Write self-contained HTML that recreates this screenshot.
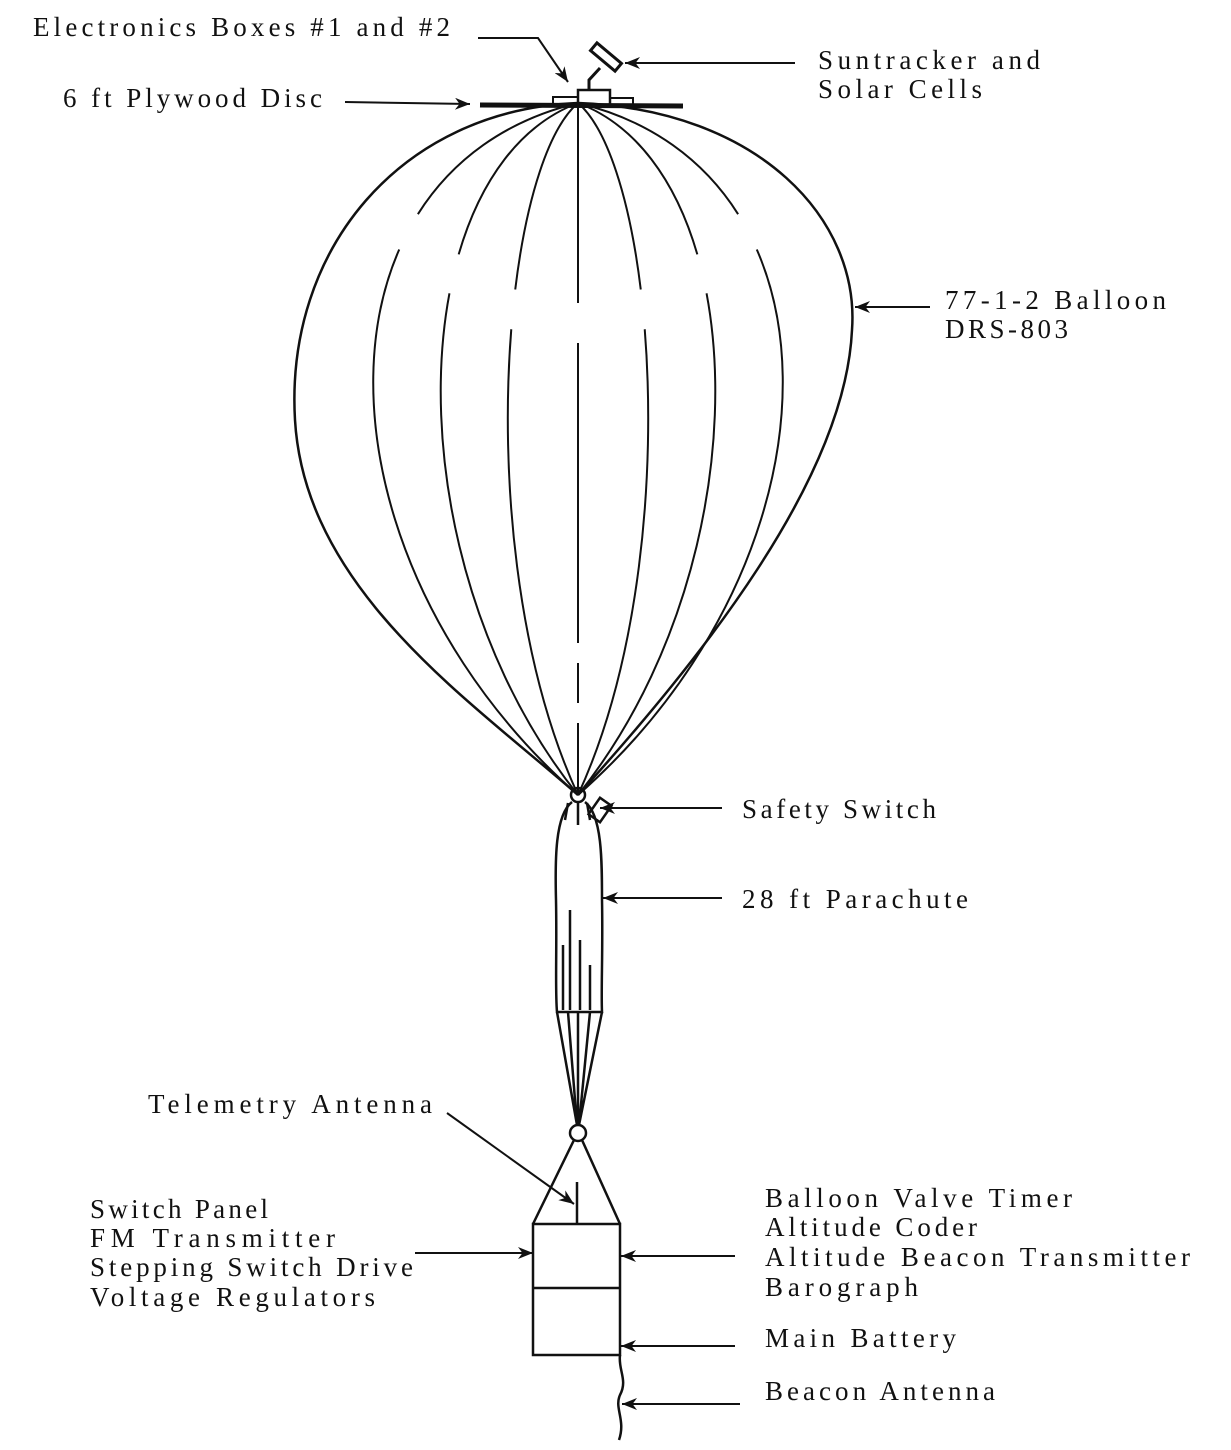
<!DOCTYPE html>
<html><head><style>
body{margin:0;background:#fff;}
svg{display:block}
text{font-family:"Liberation Serif",serif;font-size:27px;fill:#111}
</style></head><body>
<svg width="1231" height="1450" viewBox="0 0 1231 1450">
<defs>
<marker id="b" viewBox="0 0 10 8" markerWidth="22" markerHeight="12" refX="10" refY="4" orient="auto" markerUnits="userSpaceOnUse"><path d="M0,0 L10,4 L0,8 L3,4Z" fill="#111"/></marker></defs>
<g stroke="#111" fill="none" stroke-width="2.5">
<path d="M578,103 C400,110 285,250 295,420 C305,590 470,700 578,795"/>
<path d="M578,103 C760,110 860,220 852,330 C845,480 700,660 578,795"/>
<g stroke-width="2" stroke-dasharray="200 40 1000">
<path d="M578,103 C300,170 310,560 578,795"/>
<path d="M578,103 C400,170 390,560 578,795"/>
<path d="M578,103 C500,170 470,560 578,795"/>
<path d="M578,103 L578,795" stroke-dasharray="200 40 300 20 40 20 1000"/>
<path d="M578,103 C656,170 686,560 578,795"/>
<path d="M578,103 C756,170 766,560 578,795"/>
<path d="M578,103 C856,170 846,560 578,795"/>
</g>
<path d="M480,105 L683,106" stroke-width="5"/>
<rect x="553" y="97" width="25" height="9" stroke-width="2"/>
<rect x="578" y="90" width="32" height="16" stroke-width="2.5"/>
<rect x="610" y="98" width="23" height="8" stroke-width="2"/>
<path d="M589,90 L589,80 L600,68" stroke-width="3"/>
<rect x="590" y="52" width="32" height="10" transform="rotate(40 606 57)" stroke-width="3"/>
<circle cx="578" cy="795" r="7" stroke-width="2.5"/>
<rect x="593" y="800" width="14" height="20" transform="rotate(35 600 810)" stroke-width="2.5"/>
<path d="M572,802 C555,815 555,860 556,900 C557,950 555,990 557,1012 L602,1012 C601,990 603,950 602,900 C602,860 602,815 585,802"/>
<path d="M568,803 L565,820 M578,803 L578,825 M587,803 L590,820"/>
<path d="M570,910 L570,1010 M580,940 L580,1010 M590,965 L590,1010 M563,945 L563,1010"/>
<path d="M557,1012 L577,1125 M568,1012 L577,1125 M578,1012 L578,1125 M590,1012 L579,1125 M602,1012 L579,1125"/>
<circle cx="578" cy="1133" r="8" stroke-width="2.5"/>
<path d="M574,1140 L533,1224 M582,1140 L620,1224"/>
<rect x="533" y="1224" width="87" height="131"/>
<path d="M533,1288 L620,1288"/>
<path d="M577,1182 L577,1224"/>
<path d="M620,1355 C618,1370 628,1380 620,1395 C614,1408 626,1420 619,1440"/>
<g stroke-width="2">
<path d="M478,38 L538,38 L568,82" marker-end="url(#b)"/>
<path d="M345,102 L470,104" marker-end="url(#b)"/>
<path d="M795,63 L625,63" marker-end="url(#b)"/>
<path d="M930,307 L855,307" marker-end="url(#b)"/>
<path d="M722,808 L600,808" marker-end="url(#b)"/>
<path d="M722,898 L603,898" marker-end="url(#b)"/>
<path d="M447,1113 L574,1204" marker-end="url(#b)"/>
<path d="M415,1253 L533,1253" marker-end="url(#b)"/>
<path d="M735,1256 L621,1256" marker-end="url(#b)"/>
<path d="M735,1346 L621,1346" marker-end="url(#b)"/>
<path d="M740,1404 L622,1404" marker-end="url(#b)"/>
</g>
</g>
<text x="33" y="36" textLength="417" lengthAdjust="spacing">Electronics Boxes #1 and #2</text>
<text x="63" y="107" textLength="259" lengthAdjust="spacing">6 ft Plywood Disc</text>
<text x="818" y="69" textLength="222" lengthAdjust="spacing">Suntracker and</text>
<text x="818" y="98" textLength="164" lengthAdjust="spacing">Solar Cells</text>
<text x="945" y="309" textLength="221" lengthAdjust="spacing">77-1-2 Balloon</text>
<text x="945" y="338" textLength="123" lengthAdjust="spacing">DRS-803</text>
<text x="742" y="818" textLength="194" lengthAdjust="spacing">Safety Switch</text>
<text x="742" y="908" textLength="226" lengthAdjust="spacing">28 ft Parachute</text>
<text x="148" y="1113" textLength="284" lengthAdjust="spacing">Telemetry Antenna</text>
<text x="90" y="1218" textLength="178" lengthAdjust="spacing">Switch Panel</text>
<text x="90" y="1247" textLength="245" lengthAdjust="spacing">FM Transmitter</text>
<text x="90" y="1276" textLength="323" lengthAdjust="spacing">Stepping Switch Drive</text>
<text x="90" y="1306" textLength="285" lengthAdjust="spacing">Voltage Regulators</text>
<text x="765" y="1207" textLength="307" lengthAdjust="spacing">Balloon Valve Timer</text>
<text x="765" y="1236" textLength="212" lengthAdjust="spacing">Altitude Coder</text>
<text x="765" y="1266" textLength="425" lengthAdjust="spacing">Altitude Beacon Transmitter</text>
<text x="765" y="1296" textLength="153" lengthAdjust="spacing">Barograph</text>
<text x="765" y="1347" textLength="191" lengthAdjust="spacing">Main Battery</text>
<text x="765" y="1400" textLength="230" lengthAdjust="spacing">Beacon Antenna</text>
</svg>
</body></html>
